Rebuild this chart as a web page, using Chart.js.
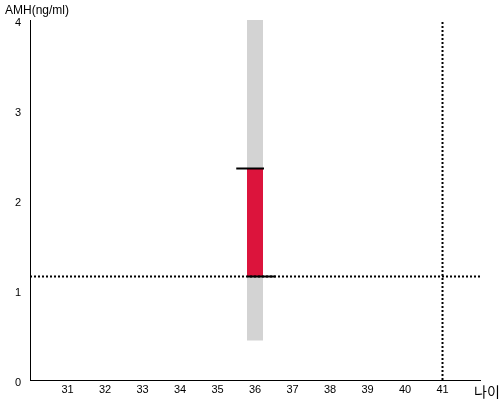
<!DOCTYPE html>
<html>
<head>
<meta charset="utf-8">
<script src="https://cdn.jsdelivr.net/npm/chart.js@4"></script>
<style>
  html, body { margin: 0; padding: 0; background: #fff; }
  #wrap { position: relative; width: 500px; height: 400px; }
  .lbl { position: absolute; font-family: "Liberation Sans", Arial, sans-serif; font-size: 12px; color: #000; white-space: nowrap; }
</style>
</head>
<body>
<div id="wrap">
  <canvas id="chartContainer" width="500" height="400"></canvas>
  <div class="lbl" style="left:5px; top:3px;">AMH(ng/ml)</div>
  <div class="lbl" style="left:474px; top:381px; font-size:14px; font-family:'Noto Sans CJK KR', sans-serif;">나이</div>
</div>
<script>
// axis ranges and tick labels
var ageTicks = [31, 32, 33, 34, 35, 36, 37, 38, 39, 40, 41];
var amhTicks = [0, 1, 2, 3, 4];

// measured age and AMH
var myAge = [36];
var myAmh = [1.15];

// normal range for the age group (grey band) and the average (red bar top)
var rangeLow = [0.44];
var rangeHigh = [4];
var averageAmh = [2.35];

// marker caps (age span of each cap)
var topCapAge = [35.5, 36.24];
var bottomCapAge = [35.8, 36.55];

// reference lines
var refAge = [41];

function vline(x, y0, y1) { return [{x: x, y: y0}, {x: x, y: y1}]; }
function hline(x0, x1, y) { return [{x: x0, y: y}, {x: x1, y: y}]; }

var ctx = document.getElementById('chartContainer').getContext('2d');
window.myChart = new Chart(ctx, {
    type: 'scatter',
    data: {
        // higher order is drawn first (underneath)
        datasets: [
            {
                data: vline(myAge[0], rangeLow[0], rangeHigh[0]), order: 6,
                borderColor: '#d3d3d3', borderWidth: 16, borderCapStyle: 'butt'
            },
            {
                data: vline(myAge[0], myAmh[0], averageAmh[0]), order: 5,
                borderColor: '#dc143c', borderWidth: 16, borderCapStyle: 'butt'
            },
            {
                data: hline(30, 42, myAmh[0]), order: 4,
                borderColor: '#000', borderWidth: 2, borderDash: [2, 2], borderCapStyle: 'butt'
            },
            {
                data: vline(refAge[0], 0, 4), order: 3,
                borderColor: '#000', borderWidth: 2, borderDash: [2, 2], borderCapStyle: 'butt'
            },
            {
                data: hline(topCapAge[0], topCapAge[1], averageAmh[0]), order: 2,
                borderColor: '#000', borderWidth: 2, borderCapStyle: 'butt'
            },
            {
                data: hline(bottomCapAge[0], bottomCapAge[1], myAmh[0]), order: 1,
                borderColor: '#000', borderWidth: 2, borderCapStyle: 'butt'
            }
        ]
    },
    options: {
        responsive: false,
        animation: false,
        showLine: true,
        elements: { point: { radius: 0, hoverRadius: 0 } },
        layout: { padding: { top: 20, right: 20, left: 0, bottom: 0 } },
        plugins: { legend: { display: false }, tooltip: { enabled: false } },
        scales: {
            x: {
                type: 'linear', min: 30, max: 42,
                grid: { display: false, drawTicks: false },
                border: { color: '#000', width: 1 },
                afterBuildTicks: function (scale) {
                    scale.ticks = ageTicks.map(function (v) { return { value: v }; });
                },
                afterFit: function (scale) { scale.height = 20; },
                ticks: {
                    padding: 3, color: '#000',
                    font: { family: '"Liberation Sans", Arial, sans-serif', size: 11 }
                }
            },
            y: {
                type: 'linear', min: 0, max: 4,
                grid: { display: false, drawTicks: false },
                border: { color: '#000', width: 1 },
                afterBuildTicks: function (scale) {
                    scale.ticks = amhTicks.map(function (v) { return { value: v }; });
                },
                afterFit: function (scale) { scale.width = 30; },
                ticks: {
                    padding: 9, labelOffset: 3, color: '#000',
                    font: { family: '"Liberation Sans", Arial, sans-serif', size: 11 }
                }
            }
        }
    }
});
</script>
</body>
</html>
